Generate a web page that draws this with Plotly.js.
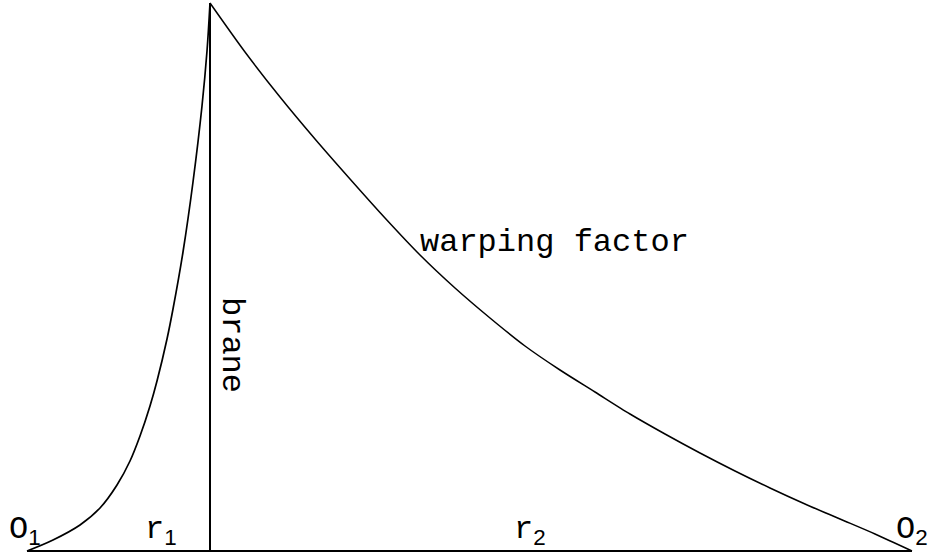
<!DOCTYPE html>
<html>
<head>
<meta charset="utf-8">
<script src="https://cdn.plot.ly/plotly-3.0.1.min.js"></script>
<style>html,body{margin:0;padding:0;background:#fff;}#chart{width:929px;height:554px;}</style>
</head>
<body>
<div id="chart"></div>
<script>
// Distance from O1 (arbitrary units) and warping-factor height
const leftR   = [0, 26, 53, 73, 90, 103, 113, 123, 130, 140, 146, 156, 166, 175, 180, 183];
const leftW   = [0, 11, 26, 43, 66, 90, 115, 145, 170, 212, 242, 299, 369, 445, 500, 548];
const rightR  = [183, 218, 253, 288, 323, 358, 393, 428, 463, 498, 533, 568, 603, 638, 673, 708, 743, 778, 813, 848, 885];
const rightW  = [548, 499, 454, 412, 372, 333, 296, 263, 233, 205, 181, 159, 137, 117, 98, 80, 63, 47, 32, 17, 0];
const braneR  = 183;
const peakW   = 548;
const originR = [0, 885];
const labelTexts = ["O", "r", "r", "O", "warping factor", "brane"];
const subTexts = ["1", "1", "2", "2"];

const traces = [
  {x: [originR[0], originR[1]], y: [0, 0], mode: "lines", line: {color: "#000", width: 2}, hoverinfo: "skip"},
  {x: [braneR, braneR], y: [0, peakW], mode: "lines", line: {color: "#000", width: 2}, hoverinfo: "skip"},
  {x: leftR, y: leftW, mode: "lines", line: {color: "#000", width: 1.7, shape: "spline", smoothing: 1}, hoverinfo: "skip"},
  {x: rightR, y: rightW, mode: "lines", line: {color: "#000", width: 1.5, shape: "spline", smoothing: 0.8}, hoverinfo: "skip"}
];

const mono = "Courier, 'Nimbus Mono PS', 'Nimbus Mono L', FreeMono, 'Liberation Mono', monospace";
function withSub(main, sub) {
  return main + "<sub><span style='font-family:Liberation Sans, Arial, sans-serif'>" + sub + "</span></sub>";
}
const base = {xref: "x", yref: "y", showarrow: false, font: {family: mono, size: 32, color: "#000"}, borderpad: 0, borderwidth: 0};
const annotations = [
  Object.assign({}, base, {x: -18, y: 1, xanchor: "left", yanchor: "bottom", text: withSub(labelTexts[0], subTexts[0])}),
  Object.assign({}, base, {x: 118, y: 1, xanchor: "left", yanchor: "bottom", text: withSub(labelTexts[1], subTexts[1])}),
  Object.assign({}, base, {x: 487, y: 1, xanchor: "left", yanchor: "bottom", text: withSub(labelTexts[2], subTexts[2])}),
  Object.assign({}, base, {x: 869, y: 1, xanchor: "left", yanchor: "bottom", text: withSub(labelTexts[3], subTexts[3])}),
  Object.assign({}, base, {x: 393, y: 309, xanchor: "left", yanchor: "middle", text: labelTexts[4]}),
  Object.assign({}, base, {x: 205, y: 206, xanchor: "center", yanchor: "middle", textangle: 90, text: labelTexts[5]})
];

const layout = {
  width: 929, height: 554,
  margin: {l: 0, r: 0, t: 0, b: 0, pad: 0},
  paper_bgcolor: "#fff", plot_bgcolor: "#fff",
  showlegend: false,
  xaxis: {range: [-27, 902], visible: false, fixedrange: true},
  yaxis: {range: [-3, 551], visible: false, fixedrange: true},
  annotations: annotations
};
Plotly.newPlot("chart", traces, layout, {displayModeBar: false, staticPlot: true});
</script>
</body>
</html>
